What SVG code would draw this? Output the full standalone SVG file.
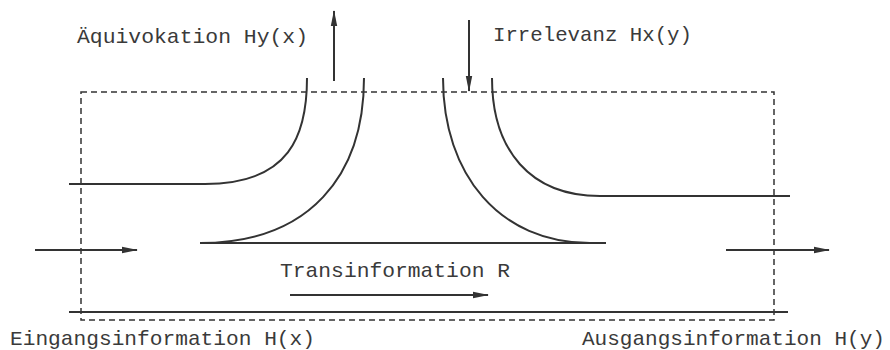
<svg xmlns="http://www.w3.org/2000/svg" width="890" height="350" viewBox="0 0 890 350">
<style>
.t{font-family:"Liberation Mono","DejaVu Sans Mono",monospace;font-size:21px;fill:#3a3a3a}
.ln{fill:none;stroke:#333;stroke-width:2}
.ar{fill:none;stroke:#333;stroke-width:2}
.box{fill:none;stroke:#333;stroke-width:1.5;stroke-dasharray:6 4}
</style>
<defs>
<marker id="ah" viewBox="0 0 16 8" refX="15" refY="4" markerWidth="16" markerHeight="8" markerUnits="userSpaceOnUse" orient="auto">
<path d="M0,0.8 L16,4 L0,7.2 Z" fill="#333"/>
</marker>
</defs>
<rect width="890" height="350" fill="#fff"/>
<g id="channel">
<rect class="box" x="81" y="92" width="693" height="228"/>
</g>
<g id="flows">
<path class="ln" d="M69,184 H205 C290,184 307,135 307,78"/>
<path class="ln" d="M200,243 H606"/>
<path class="ln" d="M200,243 C310,243 364,175 364,78"/>
<path class="ln" d="M443,78 C443,175 500,243 590,243"/>
<path class="ln" d="M492,78 C492,150 530,196 600,196 H790"/>
<path class="ln" d="M69,312 H788"/>
</g>
<g id="connectors">
<line class="ar" x1="35" y1="250" x2="137" y2="250" marker-end="url(#ah)"/>
<line class="ar" x1="726" y1="250" x2="829" y2="250" marker-end="url(#ah)"/>
<line class="ar" x1="290" y1="295" x2="488" y2="295" marker-end="url(#ah)"/>
<line class="ar" x1="334" y1="81" x2="334" y2="11" marker-end="url(#ah)"/>
<line class="ar" x1="469" y1="20" x2="469" y2="91" marker-end="url(#ah)"/>
</g>
<g id="labels">
<text class="t" x="77" y="43" textLength="231" lengthAdjust="spacingAndGlyphs">Äquivokation Hy(x)</text>
<text class="t" x="493" y="41" textLength="199" lengthAdjust="spacingAndGlyphs">Irrelevanz Hx(y)</text>
<text class="t" x="280" y="277" textLength="230" lengthAdjust="spacingAndGlyphs">Transinformation R</text>
<text class="t" x="10" y="345" textLength="305" lengthAdjust="spacingAndGlyphs">Eingangsinformation H(x)</text>
<text class="t" x="582" y="345" textLength="303" lengthAdjust="spacingAndGlyphs">Ausgangsinformation H(y)</text>
</g>
</svg>
